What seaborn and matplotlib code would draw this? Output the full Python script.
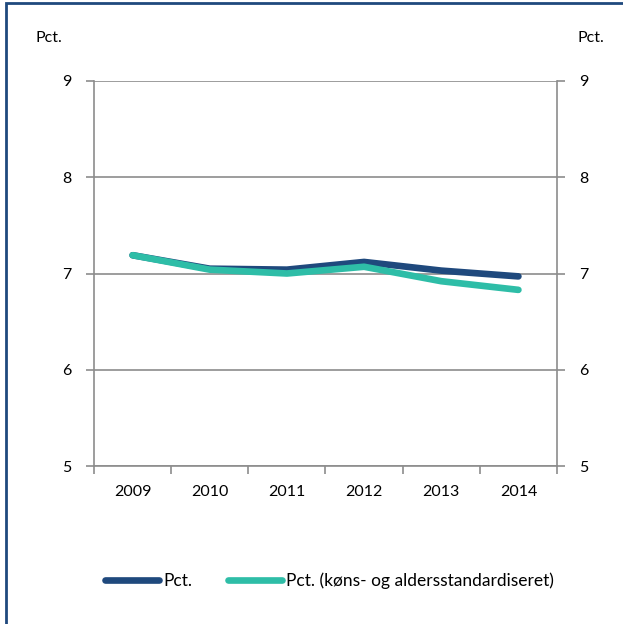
import matplotlib
matplotlib.use("Agg")
import matplotlib.pyplot as plt
import seaborn as sns
import pandas as pd
import numpy as np
from matplotlib.patches import Rectangle
from matplotlib.lines import Line2D

years = ["2009", "2010", "2011", "2012", "2013", "2014"]
pct = [7.19, 7.05, 7.04, 7.12, 7.03, 6.97]
pct_std = [7.19, 7.04, 7.00, 7.07, 6.92, 6.83]
series_names = ["Pct.", "Pct. (køns- og aldersstandardiseret)"]
colors = ["#1F497D", "#2EBDA7"]

sns.set_theme(style="white")
plt.rcParams['font.family'] = ['Lato', 'DejaVu Sans']

df = pd.DataFrame({
    "year": years * 2,
    "x": list(np.arange(len(years)) + 0.5) * 2,
    "value": pct + pct_std,
    "series": [series_names[0]] * len(years) + [series_names[1]] * len(years),
})

fig = plt.figure(figsize=(6.23, 6.24), dpi=100)
ax = fig.add_axes([94/623, 1-466/624, (557-94)/623, (466-81)/624])

sns.lineplot(data=df, x="x", y="value", hue="series", palette=colors,
             linewidth=4.8, ax=ax, legend=False, sort=False)
for line in ax.lines:
    line.set_solid_capstyle("round")

ax.set_xlim(0, len(years))
ax.set_ylim(5, 9)
ax.set_yticks([5, 6, 7, 8, 9])
ax.yaxis.grid(True, color="#8C8C8C", linewidth=1.2)
ax.set_axisbelow(True)
ax.set_xticks(np.arange(len(years) + 1))
ax.set_xticklabels([])
ax.set_xticks(np.arange(len(years)) + 0.5, minor=True)
ax.set_xticklabels(years, minor=True)
ax.tick_params(axis="x", which="major", direction="out", length=6, width=1.2, color="#8C8C8C", bottom=True)
ax.tick_params(axis="x", which="minor", length=0, pad=14, labelsize=11.5, labelcolor="#000000")
ax.tick_params(axis="y", direction="out", length=6, width=1.2, color="#8C8C8C",
               left=True, right=True, labelleft=True, labelright=True, labelsize=11.5, pad=10,
               labelcolor="#000000")
ax.set_xlabel("")
ax.set_ylabel("")
for s in ["left", "right", "bottom"]:
    ax.spines[s].set_color("#8C8C8C")
    ax.spines[s].set_linewidth(1.2)
ax.spines["top"].set_visible(False)

fig.text(49/623, 1-38/624, "Pct.", ha="center", va="center", fontsize=11.5, color="#000000")
fig.text(591/623, 1-38/624, "Pct.", ha="center", va="center", fontsize=11.5, color="#000000")

handles = [Line2D([0], [0], color=c, linewidth=4.8, solid_capstyle="round") for c in colors]
fig.legend(handles, series_names, loc="center", bbox_to_anchor=(0.529, 1-581/624), ncol=2,
           frameon=False, fontsize=12.5, handlelength=3.1, handletextpad=0.23, columnspacing=2.1,
           labelcolor="#000000", borderpad=0, borderaxespad=0)

fig.patches.append(Rectangle((6/623, -0.05), 1.2, 1.05 - 3/624, transform=fig.transFigure,
                             fill=False, edgecolor="#1F497D", linewidth=2, zorder=10))

fig.savefig("out.png", dpi=100)
